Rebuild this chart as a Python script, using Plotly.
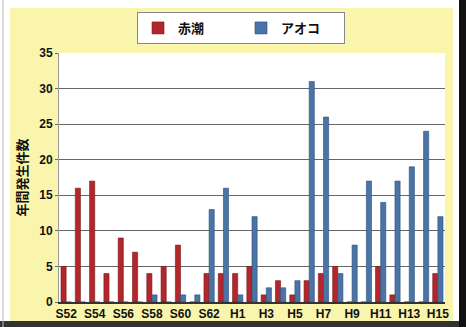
import plotly.graph_objects as go

years = ["S52", "S53", "S54", "S55", "S56", "S57", "S58", "S59", "S60", "S61", "S62", "S63",
         "H1", "H2", "H3", "H4", "H5", "H6", "H7", "H8", "H9", "H10", "H11", "H12", "H13", "H14", "H15"]
akashio = [5, 16, 17, 4, 9, 7, 4, 5, 8, 0, 4, 4,
           4, 5, 1, 3, 1, 3, 4, 5, 0, 0, 5, 1, 0, 0, 4]
aoko = [0, 0, 0, 0, 0, 0, 1, 0, 1, 1, 13, 16,
        1, 12, 2, 2, 3, 31, 26, 4, 8, 17, 14, 17, 19, 24, 12]
tick_labels = ["S52", "S54", "S56", "S58", "S60", "S62", "H1", "H3", "H5", "H7", "H9", "H11", "H13", "H15"]
series_names = ["赤潮", "アオコ"]
y_title = "年間発生件数"

W, H = 466, 327
L, R, T, B = 59, 21, 53, 25
pw, ph = W - L - R, H - T - B

def px_x(p):
    return (p - L) / pw

def px_y(p):
    return (H - B - p) / ph

fig = go.Figure()
fig.add_trace(go.Bar(x=years, y=akashio, name=series_names[0],
                     marker=dict(color="#b3262b", line=dict(color="#7a1a1d", width=0.6))))
fig.add_trace(go.Bar(x=years, y=aoko, name=series_names[1],
                     marker=dict(color="#4a73a6", line=dict(color="#2e4f7a", width=0.6))))

font_main = "Liberation Sans, Arial, sans-serif"

shapes = [
    dict(type="rect", xref="paper", yref="paper", x0=px_x(0), x1=px_x(10), y0=px_y(H), y1=px_y(0),
         fillcolor="white", line=dict(width=0), layer="below"),
    dict(type="line", xref="paper", yref="paper", x0=px_x(3), x1=px_x(3), y0=px_y(H), y1=px_y(0),
         line=dict(color="#bbbbbb", width=1)),
    dict(type="rect", xref="paper", yref="paper", x0=px_x(453), x1=px_x(466), y0=px_y(H), y1=px_y(0),
         fillcolor="white", line=dict(width=0), layer="below"),
    dict(type="rect", xref="paper", yref="paper", x0=px_x(459), x1=px_x(466), y0=px_y(H), y1=px_y(0),
         fillcolor="#111111", line=dict(width=0), layer="below"),
    dict(type="rect", xref="paper", yref="paper", x0=px_x(10), x1=px_x(453), y0=px_y(8), y1=px_y(0),
         fillcolor="white", line=dict(width=0), layer="below"),
    dict(type="rect", xref="paper", yref="paper", x0=px_x(0), x1=px_x(459), y0=px_y(327), y1=px_y(321),
         fillcolor="#333333", line=dict(width=0), layer="below"),
]

fig.update_layout(
    width=W, height=H,
    margin=dict(l=L, r=R, t=T, b=B, autoexpand=False),
    paper_bgcolor="#f9f5ac",
    plot_bgcolor="white",
    barmode="group",
    bargap=0.28,
    bargroupgap=0.0,
    font=dict(family=font_main, color="#111111", size=11),
    shapes=shapes,
    legend=dict(orientation="h", x=px_x(241), xanchor="center", y=px_y(12), yanchor="top",
                bgcolor="white", bordercolor="#888888", borderwidth=1,
                font=dict(size=13, family="Noto Sans CJK JP", color="#111111", weight="bold"),
                entrywidth=58, itemwidth=30, traceorder="normal"),
    xaxis=dict(
        type="category", automargin=False,
        categoryorder="array", categoryarray=years,
        tickmode="array", tickvals=tick_labels, ticktext=tick_labels,
        tickangle=0,
        tickfont=dict(size=12, family=font_main, weight="bold", color="#111111"),
        showline=True, linecolor="#333333", linewidth=1.5,
        ticks="", showgrid=False,
    ),
    yaxis=dict(
        range=[0, 35], dtick=5, automargin=False,
        tickfont=dict(size=12, family=font_main, weight="bold", color="#111111"),
        showgrid=True, gridcolor="#666666", gridwidth=1,
        ticks="outside", ticklen=3, tickcolor="#666666",
        showline=True, linecolor="#999999", linewidth=1,
        zeroline=False,
        title=dict(text=y_title, standoff=8,
                   font=dict(size=13, family="Noto Sans CJK JP", weight="bold", color="#111111")),
    ),
)

fig.write_html("out.html")
